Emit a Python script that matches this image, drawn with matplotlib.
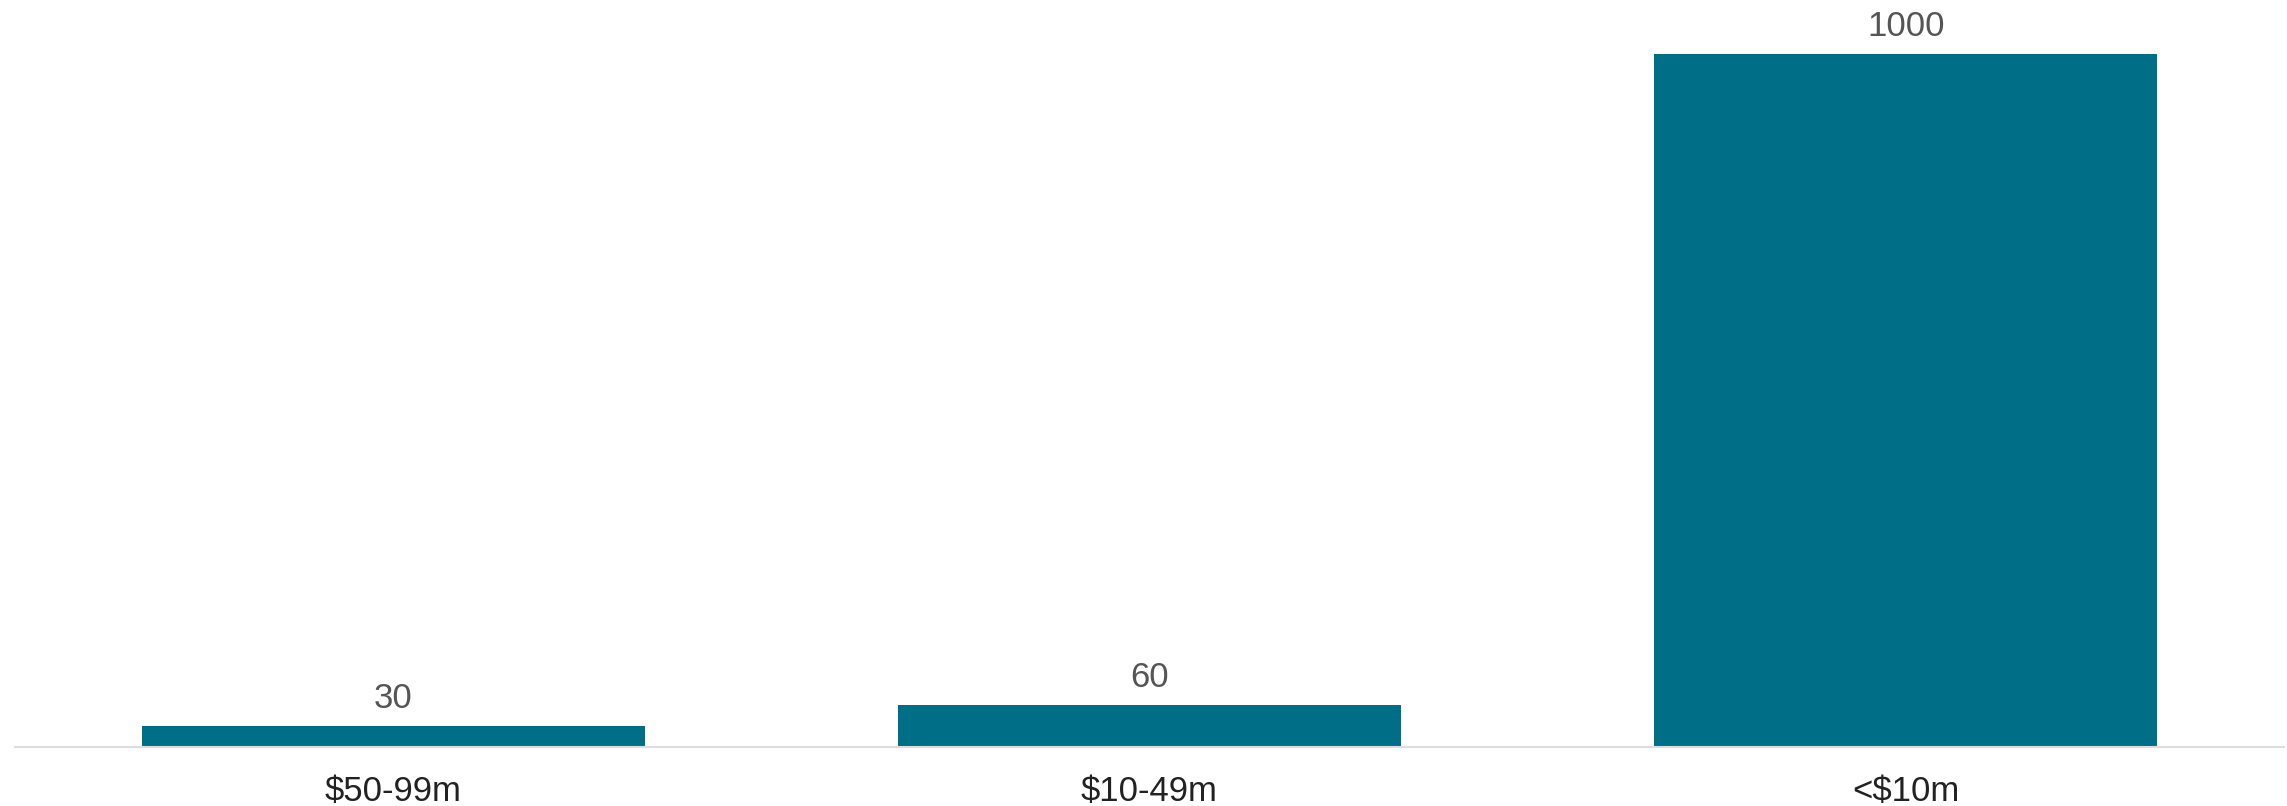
import matplotlib
matplotlib.use("Agg")
import matplotlib.pyplot as plt

categories = ["$50-99m", "$10-49m", "<$10m"]
values = [30, 60, 1000]

bar_color = "#006E87"

plt.rcParams['font.family'] = ['Liberation Sans', 'DejaVu Sans']

fig = plt.figure(figsize=(22.87, 8.06), dpi=100)
W, H = 2287, 806
ax = fig.add_axes([15 / W, (H - 747) / H, (2284 - 15) / W, 747 / H])

x = list(range(len(categories)))
bars = ax.bar(x, values, width=0.665, color=bar_color)

ax.set_xlim(-0.5, 2.5)
ax.set_ylim(0, 1078)

for b, v in zip(bars, values):
    ax.annotate(str(v), (b.get_x() + b.get_width() / 2, v),
                xytext=(0, 20), textcoords="offset points",
                ha="center", va="center", fontsize=25, color="#555555")

ax.set_xticks(x)
ax.set_xticklabels(categories, fontsize=25, color="#222222")
ax.tick_params(axis="x", length=0, pad=20)
ax.set_yticks([])
for s in ["top", "left", "right"]:
    ax.spines[s].set_visible(False)
ax.spines["bottom"].set_color("#dddddd")
ax.spines["bottom"].set_linewidth(1.5)

fig.savefig("out.png", dpi=100)
